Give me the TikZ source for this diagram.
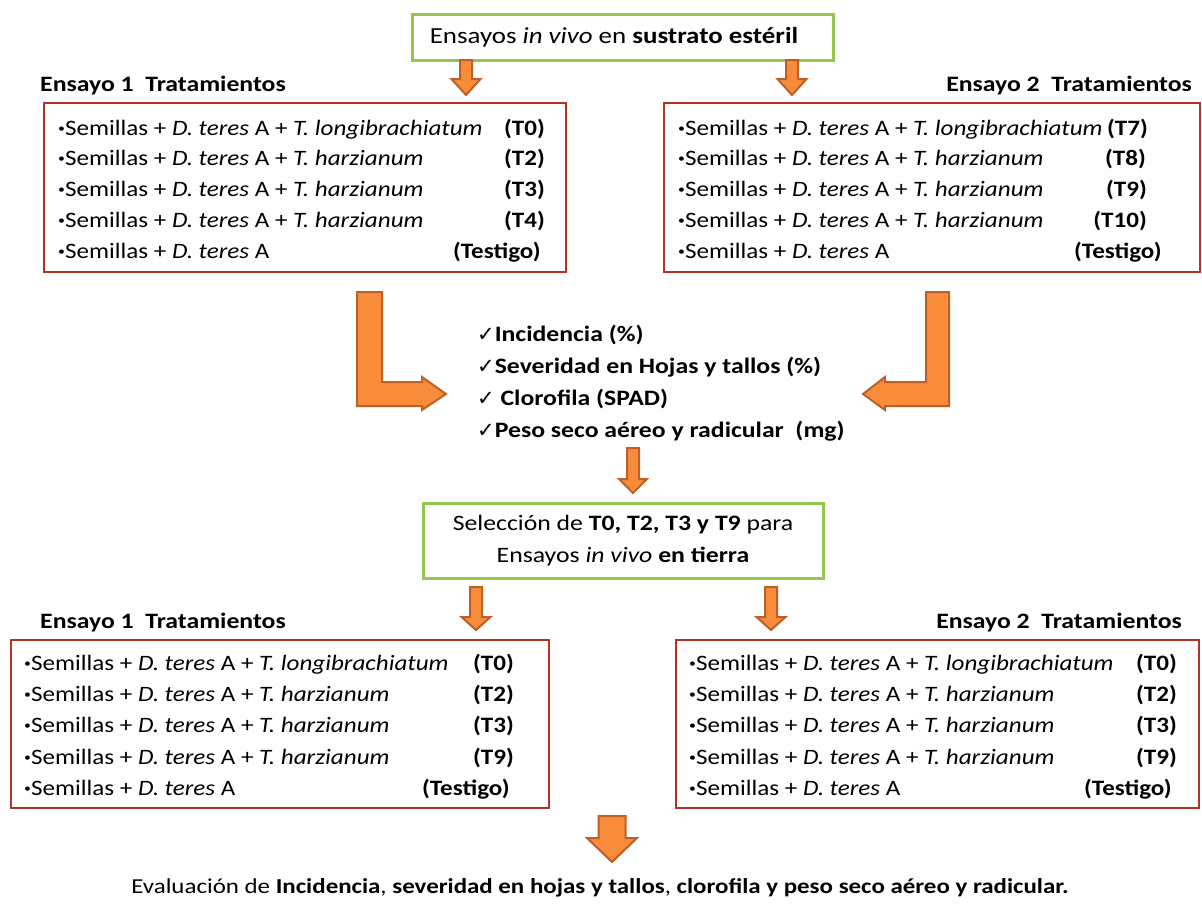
\documentclass[tikz,border=0pt]{standalone}
\usepackage{fontspec}
\setmainfont{Carlito}
\newfontfamily\symf{DejaVu Sans}
\definecolor{grn}{RGB}{146,200,80}
\definecolor{redb}{RGB}{178,52,40}
\definecolor{orf}{RGB}{248,140,58}
\definecolor{orb}{RGB}{190,96,38}
\tikzset{
  gbox/.style={draw=grn, line width=3pt, fill=white, inner sep=0},
  rbox/.style={draw=redb, line width=1.6pt, inner sep=0},
  lst/.style={inner sep=0, anchor=base west, font=\fontsize{22}{26}\selectfont},
  lab/.style={inner sep=0, anchor=base east, font=\fontsize{22}{26}\selectfont\bfseries},
  hd/.style={inner sep=0, font=\fontsize{22}{26}\selectfont\bfseries},
  chk/.style={inner sep=0, anchor=base west, font=\fontsize{22}{26}\selectfont\bfseries},
  blk/.style={fill=orf, draw=orb, line width=2pt, line join=miter},
}
\newcommand\hs[1]{\scalebox{1.17}[1]{#1}}
\newcommand\hl[1]{\scalebox{1.14}[1]{#1}}
\newcommand\bdarrow[6]{%
  \filldraw[blk] (#1-#4,#2) -- (#1+#4,#2) -- (#1+#4,#3-#6) -- (#1+#5,#3-#6) -- (#1,#3)
    -- (#1-#5,#3-#6) -- (#1-#4,#3-#6) -- cycle;}
\newcommand\ck{{\symf\fontsize{21}{21}\selectfont\mdseries ✓}}
\newcommand\bul{\raisebox{0.13em}{\scalebox{0.55}{•}}}
\newcommand\sem{\bul Semillas + \textit{D. teres} A}
\newcommand\lon{\hl{\sem{} + \textit{T. longibrachiatum}}}
\newcommand\har{\hl{\sem{} + \textit{T. harzianum}}}
\newcommand\tes{\hl{\sem}}
\begin{document}
\begin{tikzpicture}[x=1pt,y=-1pt]
\useasboundingbox (0,0) rectangle (1202,903);
% top box
\node[gbox, minimum width=421, minimum height=46] (top) at (622.5,37) {};
\node[inner sep=0, font=\fontsize{23}{27}\selectfont] (toptxt) at (614,37) {\hs{Ensayos \textit{in vivo} en \textbf{sustrato estéril}}};
% arrows from top
\bdarrow{466}{60}{95}{6}{14.5}{16}
\bdarrow{792}{60}{95}{6}{14.5}{16}
% headings
\node[hd, anchor=base west] (h1) at (40,91) {\hs{Ensayo 1\ \ Tratamientos}};
\node[hd, anchor=base east] (h2) at (1192,91) {\hs{Ensayo 2\ \ Tratamientos}};
% box L1
\node[rbox, minimum width=522, minimum height=169] (b1) at (305,187.5) {};
\node[lst] (b1a) at (58,135) {\lon};
\node[lst] (b1b) at (58,165) {\har};
\node[lst] (b1c) at (58,196) {\har};
\node[lst] (b1d) at (58,227) {\har};
\node[lst] (b1e) at (58,258) {\tes};
\node[lab] (l1a) at (545,135) {\hl{(T0)}};
\node[lab] (l1b) at (545,165) {\hl{(T2)}};
\node[lab] (l1c) at (545,196) {\hl{(T3)}};
\node[lab] (l1d) at (545,227) {\hl{(T4)}};
\node[lab] (l1e) at (541,258) {\hl{(Testigo)}};
% box R1
\node[rbox, minimum width=536, minimum height=169] (b2) at (932,187.5) {};
\node[lst] (b2a) at (678,135) {\lon};
\node[lst] (b2b) at (678,165) {\har};
\node[lst] (b2c) at (678,196) {\har};
\node[lst] (b2d) at (678,227) {\har};
\node[lst] (b2e) at (678,258) {\tes};
\node[lab] (l2a) at (1148,135) {\hl{(T7)}};
\node[lab] (l2b) at (1146,165) {\hl{(T8)}};
\node[lab] (l2c) at (1147,196) {\hl{(T9)}};
\node[lab] (l2d) at (1147,227) {\hl{(T10)}};
\node[lab] (l2e) at (1162,258) {\hl{(Testigo)}};
% bent arrows
\filldraw[blk] (357,292) -- (382,292) -- (382,382) -- (422,382) -- (422,377) -- (446,394)
  -- (422,410) -- (422,406) -- (357,406) -- cycle;
\filldraw[blk] (949,292) -- (926,292) -- (926,382) -- (885,382) -- (885,377) -- (863,394)
  -- (885,410) -- (885,406) -- (949,406) -- cycle;
% checklist
\node[chk] (c1) at (477,341) {\ck\hs{Incidencia (\%)}};
\node[chk] (c2) at (477,373) {\ck\hs{Severidad en Hojas y tallos (\%)}};
\node[chk] (c3) at (477,405) {\ck\hs{\ Clorofila (SPAD)}};
\node[chk] (c4) at (477,437) {\ck\hs{Peso seco aéreo y radicular\ \ (mg)}};
% middle arrow
\bdarrow{633}{448}{493}{6}{14}{14}
% selection box
\node[gbox, minimum width=400, minimum height=75, align=center, font=\fontsize{22}{32}\selectfont] (sel) at (623,540.5)
  {\hs{Selección de \textbf{T0, T2, T3 y T9} para}\\\hs{Ensayos \textit{in vivo} \textbf{en tierra}}};
\bdarrow{476}{587}{630}{6}{14.5}{13}
\bdarrow{771}{587}{630}{6}{14.5}{13}
% headings 2
\node[hd, anchor=base west] (h3) at (40,628) {\hs{Ensayo 1\ \ Tratamientos}};
\node[hd, anchor=base east] (h4) at (1182,628) {\hs{Ensayo 2\ \ Tratamientos}};
% box L2
\node[rbox, minimum width=538, minimum height=168] (b3) at (280,724) {};
\node[lst] (b3a) at (24,670) {\lon};
\node[lst] (b3b) at (24,701) {\har};
\node[lst] (b3c) at (24,732) {\har};
\node[lst] (b3d) at (24,764) {\har};
\node[lst] (b3e) at (24,795) {\tes};
\node[lab] (l3a) at (514,670) {\hl{(T0)}};
\node[lab] (l3b) at (514,701) {\hl{(T2)}};
\node[lab] (l3c) at (514,732) {\hl{(T3)}};
\node[lab] (l3d) at (514,764) {\hl{(T9)}};
\node[lab] (l3e) at (510,795) {\hl{(Testigo)}};
% box R2
\node[rbox, minimum width=523, minimum height=168] (b4) at (937.5,724) {};
\node[lst] (b4a) at (689,670) {\lon};
\node[lst] (b4b) at (689,701) {\har};
\node[lst] (b4c) at (689,732) {\har};
\node[lst] (b4d) at (689,764) {\har};
\node[lst] (b4e) at (689,795) {\tes};
\node[lab] (l4a) at (1177,670) {\hl{(T0)}};
\node[lab] (l4b) at (1177,701) {\hl{(T2)}};
\node[lab] (l4c) at (1177,732) {\hl{(T3)}};
\node[lab] (l4d) at (1177,764) {\hl{(T9)}};
\node[lab] (l4e) at (1172,795) {\hl{(Testigo)}};
% final arrow
\bdarrow{612}{816}{862}{13.5}{25}{24}
\node[inner sep=0, font=\fontsize{21.3}{25}\selectfont] (fin) at (600,888)
  {\hs{Evaluación de \textbf{Incidencia}, \textbf{severidad en hojas y tallos}, \textbf{clorofila y peso seco aéreo y radicular.}}};
\end{tikzpicture}
\end{document}
